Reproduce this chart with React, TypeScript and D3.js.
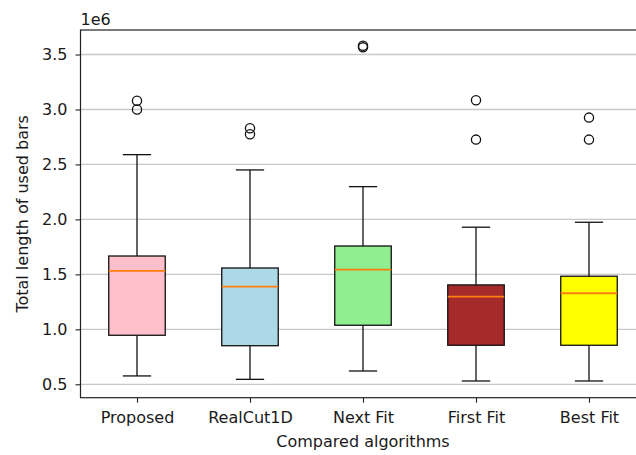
import * as d3 from 'd3'
import { useEffect, useRef } from 'react'

// values in units of 1e6
const algorithms = ['Proposed', 'RealCut1D', 'Next Fit', 'First Fit', 'Best Fit']
const boxColors = ['#ffc0cb', '#add8e6', '#90ee90', '#a52a2a', '#ffff00']
const whiskerLow = [0.576, 0.545, 0.621, 0.53, 0.53]
const q1 = [0.946, 0.851, 1.037, 0.855, 0.855]
const median = [1.531, 1.388, 1.543, 1.297, 1.328]
const q3 = [1.667, 1.558, 1.758, 1.404, 1.483]
const whiskerHigh = [2.589, 2.45, 2.298, 1.929, 1.974]
const outliers = [
  [3.08, 3.0],
  [2.829, 2.775],
  [3.58, 3.565],
  [3.084, 2.726],
  [2.926, 2.726],
]
const yTicks = [0.5, 1.0, 1.5, 2.0, 2.5, 3.0, 3.5]

const W = 636, H = 455
const FONT = '"DejaVu Sans", sans-serif'

export default function App() {
  const ref = useRef<SVGSVGElement | null>(null)

  useEffect(() => {
    document.body.style.margin = '0'
    if (!ref.current) return
    const svg = d3.select(ref.current)
    svg.selectAll('*').remove()
    const m = { left: 80.5, top: 30, right: 645.5, bottom: 397.7 }

    const x = d3.scaleLinear().domain([0.5, 5.5]).range([m.left, m.right])
    const y = d3.scaleLinear().domain([0.378, 3.723]).range([m.bottom, m.top])

    // grid
    svg.append('g').selectAll('line').data(yTicks).enter().append('line')
      .attr('x1', m.left).attr('x2', m.right)
      .attr('y1', d => y(d)).attr('y2', d => y(d))
      .attr('stroke', '#c8c8c8').attr('stroke-width', 1.3)

    const half = 0.25, capHalf = 0.125
    algorithms.forEach((name, i) => {
      const pos = i + 1
      const cx = x(pos)
      const g = svg.append('g')
      const line = (x1: number, y1: number, x2: number, y2: number, color = '#111', w = 1.3) =>
        g.append('line').attr('x1', x1).attr('y1', y1).attr('x2', x2).attr('y2', y2)
          .attr('stroke', color).attr('stroke-width', w)
      line(cx, y(q1[i]), cx, y(whiskerLow[i]))
      line(cx, y(q3[i]), cx, y(whiskerHigh[i]))
      line(x(pos - capHalf), y(whiskerLow[i]), x(pos + capHalf), y(whiskerLow[i]))
      line(x(pos - capHalf), y(whiskerHigh[i]), x(pos + capHalf), y(whiskerHigh[i]))
      g.append('rect')
        .attr('x', x(pos - half)).attr('y', y(q3[i]))
        .attr('width', x(pos + half) - x(pos - half)).attr('height', y(q1[i]) - y(q3[i]))
        .attr('fill', boxColors[i]).attr('stroke', '#111').attr('stroke-width', 1.3)
      line(x(pos - half), y(median[i]), x(pos + half), y(median[i]), '#ff7f0e', 1.8)
      g.selectAll('circle').data(outliers[i]).enter().append('circle')
        .attr('cx', cx).attr('cy', d => y(d)).attr('r', 4.6)
        .attr('fill', 'none').attr('stroke', '#111').attr('stroke-width', 1.3)
    })

    // axes
    const yAxis = svg.append('g').attr('transform', `translate(${m.left},0)`)
      .call(d3.axisLeft(y).tickValues(yTicks).tickFormat(d3.format('.1f')).tickSize(5).tickPadding(8))
    const xAxis = svg.append('g').attr('transform', `translate(0,${m.bottom})`)
      .call(d3.axisBottom(x).tickValues([1, 2, 3, 4, 5]).tickFormat((_, i) => algorithms[i]).tickSize(5).tickPadding(9))
    for (const ax of [yAxis, xAxis]) {
      ax.select('.domain').remove()
      ax.selectAll('.tick line').attr('stroke', '#222').attr('stroke-width', 1.1)
      ax.selectAll('.tick text').attr('fill', '#1a1a1a').attr('font-size', 16).attr('font-family', FONT)
    }

    // spines
    svg.append('rect').attr('x', m.left).attr('y', m.top)
      .attr('width', m.right - m.left).attr('height', m.bottom - m.top)
      .attr('fill', 'none').attr('stroke', '#222').attr('stroke-width', 1.2)

    svg.append('text').attr('x', m.left).attr('y', 25)
      .attr('font-size', 16).attr('font-family', FONT).attr('fill', '#1a1a1a').text('1e6')
    svg.append('text').attr('x', (m.left + m.right) / 2).attr('y', 447)
      .attr('text-anchor', 'middle').attr('font-size', 16).attr('font-family', FONT)
      .attr('fill', '#1a1a1a').text('Compared algorithms')
    svg.append('text').attr('transform', `translate(28,${(m.top + m.bottom) / 2}) rotate(-90)`)
      .attr('text-anchor', 'middle').attr('font-size', 16).attr('font-family', FONT)
      .attr('fill', '#1a1a1a').text('Total length of used bars')
  }, [])

  return (
    <div style={{ position: 'absolute', left: 0, top: 0 }}>
      <svg ref={ref} width={W} height={H} style={{ display: 'block', background: '#fff' }} />
    </div>
  )
}
